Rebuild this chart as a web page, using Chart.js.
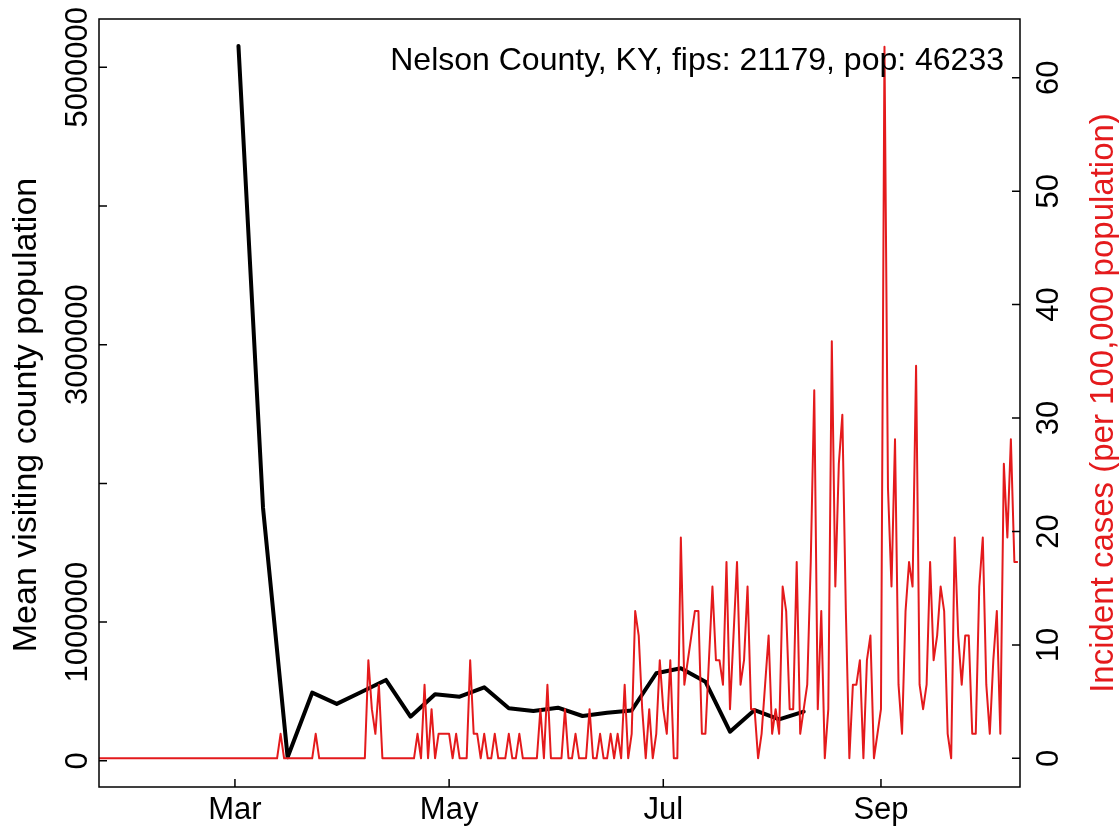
<!DOCTYPE html>
<html>
<head>
<meta charset="utf-8">
<script src="https://cdn.jsdelivr.net/npm/chart.js@4.4.1/dist/chart.umd.min.js"></script>
<style>
  html, body { margin: 0; padding: 0; background: #fff; }
  #wrap { width: 1119px; height: 830px; }
</style>
</head>
<body>
<div id="wrap"><canvas id="myChart" width="1119" height="830"></canvas></div>
<script>
// day numbers count from Jan 1 2020 (= 0)
const startDay = 21;
// daily incident cases per 100,000 population, from Jan 22
const incidence = [
    0, 0, 0, 0, 0, 0, 0, 0, 0, 0,
    0, 0, 0, 0, 0, 0, 0, 0, 0, 0,
    0, 0, 0, 0, 0, 0, 0, 0, 0, 0,
    0, 0, 0, 0, 0, 0, 0, 0, 0, 0,
    0, 0, 0, 0, 0, 0, 0, 0, 0, 0,
    0, 0, 2.16, 0, 0, 0, 0, 0, 0, 0,
    0, 0, 2.16, 0, 0, 0, 0, 0, 0, 0,
    0, 0, 0, 0, 0, 0, 0, 8.65, 4.33, 2.16,
    6.49, 0, 0, 0, 0, 0, 0, 0, 0, 0,
    0, 2.16, 0, 6.49, 0, 4.33, 0, 2.16, 2.16, 2.16,
    2.16, 0, 2.16, 0, 0, 0, 8.65, 2.16, 2.16, 0,
    2.16, 0, 0, 2.16, 0, 0, 0, 2.16, 0, 0,
    2.16, 0, 0, 0, 0, 0, 4.33, 0, 6.49, 0,
    0, 0, 0, 4.33, 0, 0, 2.16, 0, 0, 0,
    4.33, 0, 0, 2.16, 0, 0, 2.16, 0, 2.16, 0,
    6.49, 0, 2.16, 12.98, 10.82, 4.33, 0, 4.33, 0, 2.16,
    8.65, 4.33, 2.16, 8.65, 0, 0, 19.47, 6.49, 8.65, 10.82,
    12.98, 12.98, 2.16, 2.16, 8.65, 15.14, 8.65, 8.65, 6.49, 17.30,
    4.33, 10.82, 17.30, 6.49, 8.65, 15.14, 4.33, 4.33, 0, 2.16,
    6.49, 10.82, 2.16, 4.33, 2.16, 15.14, 12.98, 4.33, 4.33, 17.30,
    2.16, 4.33, 6.49, 17.30, 32.44, 4.33, 12.98, 0, 4.33, 36.77,
    15.14, 25.96, 30.28, 12.98, 0, 6.49, 6.49, 8.65, 0, 8.65,
    10.82, 0, 2.16, 4.33, 62.73, 23.79, 15.14, 28.12, 6.49, 2.16,
    12.98, 17.30, 15.14, 34.61, 6.49, 4.33, 6.49, 17.30, 8.65, 10.82,
    15.14, 12.98, 2.16, 0, 19.47, 10.82, 6.49, 10.82, 10.82, 2.16,
    2.16, 15.14, 19.47, 6.49, 2.16, 8.65, 12.98, 2.16, 25.96, 19.47,
    28.12, 17.30, 17.30
];

// weekly mean visiting population, first week = Mar 2
const visitStart = 61;
const visitors = [
    5154000, 1823000, 25000, 491000, 410000, 496000, 583000, 318000,
    479000, 462000, 530000, 379000, 359000, 383000, 323000, 347000,
    363000, 631000, 667000, 570000, 210000, 366000, 299000, 354000
];

const monthTicks = [60, 121, 182, 244];
const monthLabels = ['Mar', 'May', 'Jul', 'Sep'];
const leftTicks = [0, 1000000, 2000000, 3000000, 4000000, 5000000];
const leftLabels = ['0', '1000000', '', '3000000', '', '5000000'];
const rightTicks = [0, 10, 20, 30, 40, 50, 60];
const rightLabels = ['0', '10', '20', '30', '40', '50', '60'];

const titleText = 'Nelson County, KY, fips: 21179, pop: 46233';
const leftTitle = 'Mean visiting county population';
const rightTitle = 'Incident cases (per 100,000 population)';

const red = 'rgb(228, 26, 28)';
const fam = '"Liberation Sans", Arial, Helvetica, sans-serif';

const vText = (ctx, txt, x, y, color, size) => {
    ctx.save();
    ctx.translate(x, y);
    ctx.rotate(-Math.PI / 2);
    ctx.font = size + 'px ' + fam;
    ctx.fillStyle = color;
    ctx.textAlign = 'center';
    ctx.textBaseline = 'alphabetic';
    ctx.fillText(txt, 0, 0);
    ctx.restore();
};

// R-style box, inward ticks, rotated y labels and titles
const baseAxes = {
    id: 'baseAxes',
    afterDraw(chart) {
        const { ctx, chartArea: a, scales } = chart;
        ctx.save();
        ctx.strokeStyle = '#000';
        ctx.lineWidth = 1.5;
        ctx.strokeRect(a.left, a.top, a.right - a.left, a.bottom - a.top);
        ctx.beginPath();
        monthTicks.forEach(v => {
            const x = scales.x.getPixelForValue(v);
            ctx.moveTo(x, a.bottom);
            ctx.lineTo(x, a.bottom - 8);
        });
        leftTicks.forEach(v => {
            const y = scales.yL.getPixelForValue(v);
            ctx.moveTo(a.left, y);
            ctx.lineTo(a.left + 8, y);
        });
        rightTicks.forEach(v => {
            const y = scales.yR.getPixelForValue(v);
            ctx.moveTo(a.right, y);
            ctx.lineTo(a.right - 8, y);
        });
        ctx.stroke();

        leftTicks.forEach((v, i) => {
            if (leftLabels[i]) vText(ctx, leftLabels[i], a.left - 12, scales.yL.getPixelForValue(v), '#000', 31);
        });
        rightTicks.forEach((v, i) => {
            vText(ctx, rightLabels[i], a.right + 38, scales.yR.getPixelForValue(v), '#000', 31);
        });
        vText(ctx, leftTitle, 36, 415, '#000', 34);
        vText(ctx, rightTitle, 1113, 403, red, 33);

        ctx.font = '32px ' + fam;
        ctx.fillStyle = '#000';
        ctx.textAlign = 'right';
        ctx.textBaseline = 'alphabetic';
        ctx.fillText(titleText, a.right - 16, 70);
        ctx.restore();
    }
};

new Chart(document.getElementById('myChart'), {
    type: 'line',
    data: {
        datasets: [
            {
                label: 'Incident cases',
                data: incidence.map((v, i) => ({ x: startDay + i, y: v })),
                yAxisID: 'yR',
                borderColor: red,
                borderWidth: 2,
                pointRadius: 0,
                borderJoinStyle: 'round',
                tension: 0,
            },
            {
                label: 'Mean visiting county population',
                data: visitors.map((v, i) => ({ x: visitStart + 7 * i, y: v })),
                yAxisID: 'yL',
                borderColor: '#000',
                borderWidth: 4,
                pointRadius: 0,
                borderCapStyle: 'round',
                borderJoinStyle: 'round',
                tension: 0,
            },
        ],
    },
    options: {
        responsive: false,
        devicePixelRatio: 1,
        animation: false,
        layout: { padding: { top: 19, left: 0, right: 0, bottom: 0 } },
        plugins: { legend: { display: false }, tooltip: { enabled: false } },
        scales: {
            x: {
                type: 'linear',
                min: 21.28,
                max: 283.6,
                afterFit: s => { s.height = 43; },
                afterBuildTicks: s => { s.ticks = monthTicks.map(v => ({ value: v })); },
                grid: { display: false, drawTicks: false },
                border: { display: false },
                ticks: {
                    autoSkip: false,
                    maxRotation: 0,
                    padding: 5,
                    color: '#000',
                    font: { family: fam, size: 31 },
                    callback: (v, i) => monthLabels[i],
                },
            },
            yL: {
                type: 'linear',
                position: 'left',
                min: -189000,
                max: 5348000,
                afterFit: s => { s.width = 99; },
                ticks: { display: false },
                grid: { display: false, drawTicks: false },
                border: { display: false },
            },
            yR: {
                type: 'linear',
                position: 'right',
                min: -2.53,
                max: 65.18,
                afterFit: s => { s.width = 99; },
                ticks: { display: false },
                grid: { display: false, drawTicks: false },
                border: { display: false },
            },
        },
    },
    plugins: [baseAxes],
});
</script>
</body>
</html>
